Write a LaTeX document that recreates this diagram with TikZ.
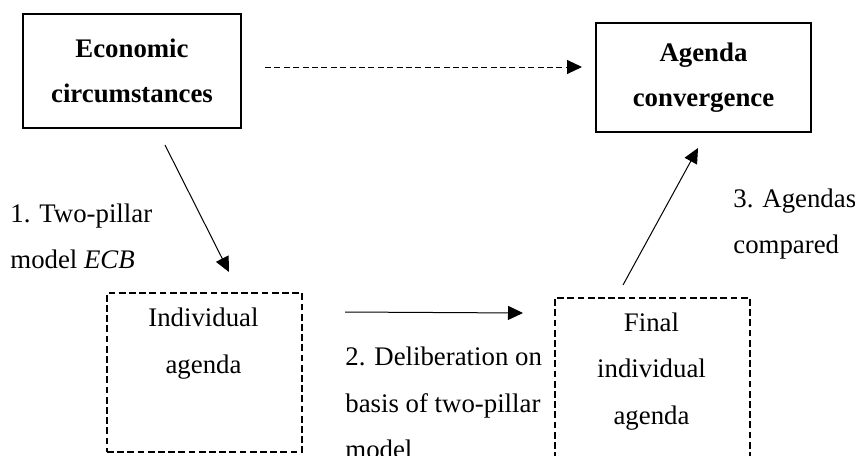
\documentclass[tikz,border=0pt]{standalone}
\usepackage{fontspec}
\setmainfont{Liberation Serif}
\usetikzlibrary{arrows.meta}

\tikzset{
    solidbox/.style={draw, line width=0.6pt, font=\fontsize{13.4}{22.5}\selectfont\bfseries, align=center, inner sep=0pt},
    dashbox/.style={draw, line width=0.6pt, dash pattern=on 3.4pt off 1.7pt, inner sep=0pt},
    boxtext/.style={align=center, inner sep=0pt},
    steptext/.style={align=left, anchor=west, inner sep=0pt},
    link/.style={line width=0.5pt, -{Triangle[length=7.5pt,width=7pt]}},
}

\begin{document}
\begin{tikzpicture}[x=0.5pt, y=-0.5pt, font=\fontsize{13.4}{23.2}\selectfont]
        \useasboundingbox (0, 0) rectangle (855, 455);

        % top row
        \node[solidbox, minimum width=109pt, minimum height=57pt] (econ) at (132, 71) {Economic\\circumstances};
        \node[solidbox, minimum width=107.5pt, minimum height=54.5pt] (conv) at (703.5, 77.5) {Agenda\\convergence};

        % bottom row
        \node[dashbox, minimum width=97.5pt, minimum height=79.5pt] (indivbox) at (204.5, 372.5) {};
        \node[boxtext] (indiv) at (203.5, 343.5) {Individual\\agenda};
        \node[dashbox, minimum width=97.5pt, minimum height=90pt] (finalbox) at (652.5, 388) {};
        \node[boxtext] (final) at (651.5, 371.5) {Final\\individual\\agenda};

        % step labels
        \node[steptext] (stepone) at (10, 236.5) {1. Two-pillar\\model \textit{ECB}};
        \node[steptext] (steptwo) at (345, 403) {2. Deliberation on\\basis of two-pillar\\model};
        \node[steptext] (stepthree) at (733, 224) {3. Agendas\\compared};

        % arrow ends
        \coordinate (econr) at (265, 67);
        \coordinate (convl) at (582, 67);
        \coordinate (econb) at (165, 145);
        \coordinate (indivt) at (229, 272);
        \coordinate (indivr) at (345, 312);
        \coordinate (finall) at (523, 313);
        \coordinate (finalt) at (623, 285);
        \coordinate (convb) at (698, 148);

        \draw[link, dash pattern=on 3pt off 1.7pt] (econr) -- (convl);
        \draw[link] (econb) -- (indivt);
        \draw[link] (indivr) -- (finall);
        \draw[link] (finalt) -- (convb);
\end{tikzpicture}
\end{document}
